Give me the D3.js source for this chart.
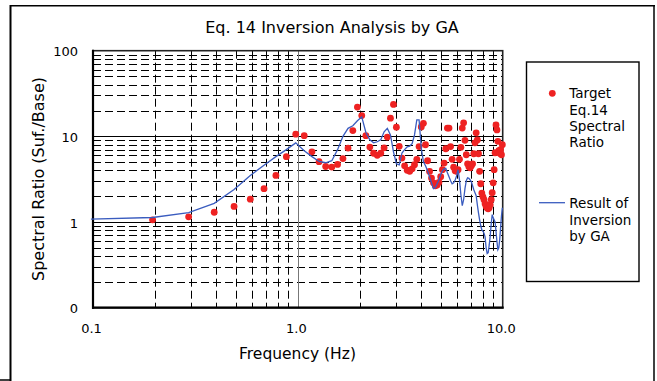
<!DOCTYPE html>
<html><head><meta charset="utf-8">
<script src="https://cdn.jsdelivr.net/npm/d3@7"></script>
<style>
body{margin:0;background:#fff;}
svg{display:block;}
text{font-family:"DejaVu Sans",sans-serif;fill:#000;}
</style>
</head><body>
<svg id="c" width="657" height="381"></svg>
<script>
// ---------- data ----------
const freqs = [
 0.0977,0.1953,0.2930,0.3906,0.4883,0.5859,0.6836,0.7813,0.8789,0.9766,
 1.0742,1.1719,1.2695,1.3672,1.4648,1.5625,1.6602,1.7578,1.8555,1.9531,
 2.0508,2.1484,2.2461,2.3438,2.4414,2.5391,2.6367,2.7344,2.8320,2.9297,
 3.0273,3.1250,3.2227,3.3203,3.4180,3.5156,3.6133,3.7109,3.8086,3.9063,
 4.0039,4.1016,4.1992,4.2969,4.3945,4.4922,4.5898,4.6875,4.7852,4.8828,
 4.9805,5.0781,5.1758,5.2734,5.3711,5.4688,5.5664,5.6641,5.7617,5.8594,
 5.9570,6.0547,6.1523,6.2500,6.3477,6.4453,6.5430,6.6406,6.7383,6.8359,
 6.9336,7.0313,7.1289,7.2266,7.3242,7.4219,7.5195,7.6172,7.7148,7.8125,
 7.9102,8.0078,8.1055,8.2031,8.3008,8.3984,8.4961,8.5938,8.6914,8.7891,
 8.8867,8.9844,9.0820,9.1797,9.2773,9.3750,9.4727,9.5703,9.6680,9.7656,
 9.8633,9.9609
];
const target = [
 null,1.06,1.15,1.30,1.52,1.85,2.45,3.5,5.8,10.6,
 10.2,6.6,5.06,4.45,4.38,4.7,5.5,7.3,11.7,22.0,
 17.5,10.2,7.5,6.35,6.0,6.35,7.35,9.8,16.3,23.6,
 12.8,7.65,5.58,4.53,4.02,3.91,4.18,4.66,5.4,7.6,
 12.9,14.2,7.98,5.19,3.9,3.26,2.87,2.65,2.7,2.91,
 3.38,4.08,4.88,7.17,12.5,12.5,7.6,5.4,4.36,3.96,
 3.91,4.08,5.4,7.45,12.5,14.4,9.0,6.1,4.78,4.42,
 4.3,4.53,4.78,6.27,8.4,11.0,9.1,6.27,3.91,2.8,
 2.18,1.97,1.82,1.63,1.52,1.46,1.43,1.47,1.59,1.82,
 2.2,2.87,4.08,6.44,13.6,11.9,8.76,6.8,6.35,6.98,
 6.1,8.0
];
const inversion = [
 1.08,1.13,1.29,1.65,2.4,3.5,4.6,5.8,7.0,8.4,
 6.8,5.8,5.1,4.92,5.2,7.0,10.0,12.4,13.3,15.2,
 16.9,11.1,9.1,8.4,8.65,9.1,11.3,12.4,10.4,6.6,
 4.79,4.66,6.4,7.0,7.56,7.7,8.2,10.4,15.6,15.6,
 7.3,5.05,4.54,3.97,3.37,2.87,2.45,2.51,2.8,3.1,
 3.57,3.97,4.18,4.24,3.76,3.37,3.03,2.80,2.87,3.1,
 3.46,4.08,3.1,2.08,1.55,1.82,2.45,3.03,3.28,3.24,
 3.1,2.95,2.65,2.38,2.2,2.03,1.59,1.28,1.06,0.905,
 0.81,0.78,0.74,0.67,0.5,0.43,0.44,0.54,0.69,0.955,
 1.22,1.12,1.06,1.0,0.77,0.59,0.475,0.5,0.62,0.86,
 1.18,1.47
];
const xTickValues = [0.1, 1, 10];
const xTickLabels = ["0.1", "1.0", "10.0"];
const yTickValues = [0.1, 1, 10, 100];
const yTickLabels = ["0", "1", "10", "100"];
const titleText = "Eq. 14 Inversion Analysis by GA";
const xTitle = "Frequency (Hz)";
const yTitle = "Spectral Ratio (Suf./Base)";
const legendTarget = ["Target", "Eq.14", "Spectral", "Ratio"];
const legendLine = ["Result of", "Inversion", "by GA"];

// ---------- layout ----------
const L = 93, R = 502.7, T = 50.7, B = 307.7;
const svg = d3.select("#c");
const x = d3.scaleLog().domain([0.1, 10]).range([L, R]);
const y = d3.scaleLog().domain([0.1, 100]).range([B, T]);
const crisp = v => Math.round(v) + 0.5;

svg.append("rect").attr("width", 657).attr("height", 381).attr("fill", "#fff");

// outer frame
const frame = svg.append("g").attr("stroke", "#000").attr("fill", "none");
frame.append("line").attr("x1", 10.5).attr("x2", 10.5).attr("y1", 5).attr("y2", 381).attr("stroke-width", 2);
frame.append("line").attr("x1", 10).attr("x2", 655).attr("y1", 5.75).attr("y2", 5.75).attr("stroke-width", 1.5);
frame.append("line").attr("x1", 654).attr("x2", 654).attr("y1", 5).attr("y2", 381).attr("stroke-width", 1.5);
frame.append("line").attr("x1", 0).attr("x2", 11).attr("y1", 380).attr("y2", 380).attr("stroke-width", 1.5);

// minor grid
const decadesX = [0.1, 1];
const decadesY = [0.1, 1, 10];
const minorX = [], minorY = [];
decadesX.forEach(d => { for (let m = 2; m <= 9; m++) minorX.push(d * m); });
decadesY.forEach(d => { for (let m = 2; m <= 9; m++) minorY.push(d * m); });

const grid = svg.append("g");
grid.selectAll("line.hy").data(minorY).join("line")
  .attr("x1", L).attr("x2", R)
  .attr("y1", d => crisp(y(d))).attr("y2", d => crisp(y(d)))
  .attr("stroke", "#000").attr("stroke-width", 1).attr("stroke-dasharray", "8,4");
grid.selectAll("line.vx").data(minorX).join("line")
  .attr("y1", T).attr("y2", B)
  .attr("x1", d => crisp(x(d))).attr("x2", d => crisp(x(d)))
  .attr("stroke", "#000").attr("stroke-width", 1).attr("stroke-dasharray", "8,4");

// major grid
grid.selectAll("line.my").data([1, 10]).join("line")
  .attr("x1", L).attr("x2", R)
  .attr("y1", d => crisp(y(d))).attr("y2", d => crisp(y(d)))
  .attr("stroke", "#000").attr("stroke-width", 1.2);
grid.append("line").attr("x1", crisp(x(1))).attr("x2", crisp(x(1))).attr("y1", T).attr("y2", B)
  .attr("stroke", "#777").attr("stroke-width", 1);

// plot border
svg.append("rect").attr("x", L).attr("y", T).attr("width", R - L).attr("height", B - T)
  .attr("fill", "none").attr("stroke", "#222").attr("stroke-width", 1.6);
svg.append("line").attr("x1", L).attr("x2", L).attr("y1", T - 1).attr("y2", B + 1).attr("stroke", "#000").attr("stroke-width", 2.2);
svg.append("line").attr("x1", L - 1).attr("x2", R + 1).attr("y1", B).attr("y2", B).attr("stroke", "#000").attr("stroke-width", 2.2);

// series: target dots
const tData = freqs.map((f, i) => ({f, v: target[i]})).filter(d => d.v != null);
svg.append("g").selectAll("circle").data(tData).join("circle")
  .attr("cx", d => x(d.f)).attr("cy", d => y(d.v)).attr("r", 3.4)
  .attr("fill", "#ee2222");

// series: inversion line
const lData = freqs.map((f, i) => ({f, v: inversion[i]}));
svg.append("path").datum(lData)
  .attr("d", d3.line().x(d => x(d.f)).y(d => y(d.v)))
  .attr("fill", "none").attr("stroke", "#3a5cbf").attr("stroke-width", 1.3);

// axes
const xAxis = d3.axisBottom(x).tickValues(xTickValues)
  .tickFormat((d, i) => xTickLabels[i]).tickSize(0).tickPadding(16.5);
const gx = svg.append("g").attr("transform", `translate(0,${B})`).call(xAxis);
gx.select(".domain").remove();
gx.selectAll("text").attr("font-size", 13).attr("font-family", "DejaVu Sans").attr("dx", -2);

const yAxis = d3.axisLeft(y).tickValues(yTickValues)
  .tickFormat((d, i) => yTickLabels[i]).tickSize(0).tickPadding(15);
const gy = svg.append("g").attr("transform", `translate(${L},0)`).call(yAxis);
gy.select(".domain").remove();
gy.selectAll("text").attr("font-size", 13).attr("font-family", "DejaVu Sans").attr("dy", "0.4em");

// titles
svg.append("text").attr("x", 332).attr("y", 32.5).attr("text-anchor", "middle")
  .attr("font-size", 16).text(titleText);
svg.append("text").attr("x", 297.5).attr("y", 358.5).attr("text-anchor", "middle")
  .attr("font-size", 15.5).text(xTitle);
svg.append("text").attr("transform", "translate(44,179) rotate(-90)").attr("text-anchor", "middle")
  .attr("font-size", 16).text(yTitle);

// legend
const lg = svg.append("g");
lg.append("rect").attr("x", 526.5).attr("y", 62).attr("width", 112.5).attr("height", 219.5)
  .attr("fill", "#fff").attr("stroke", "#000").attr("stroke-width", 1.4);
lg.append("circle").attr("cx", 552.3).attr("cy", 93.3).attr("r", 3.4).attr("fill", "#ee2222");
lg.selectAll("text.t1").data(legendTarget).join("text")
  .attr("x", 569.3).attr("y", (d, i) => 98.3 + i * 16.2)
  .attr("font-size", 13.5).text(d => d);
lg.append("line").attr("x1", 539).attr("x2", 565).attr("y1", 202.7).attr("y2", 202.7)
  .attr("stroke", "#3a5cbf").attr("stroke-width", 1.3);
lg.selectAll("text.t2").data(legendLine).join("text")
  .attr("x", 569.3).attr("y", (d, i) => 208.3 + i * 16.2)
  .attr("font-size", 13.5).text(d => d);
</script>
</body></html>
